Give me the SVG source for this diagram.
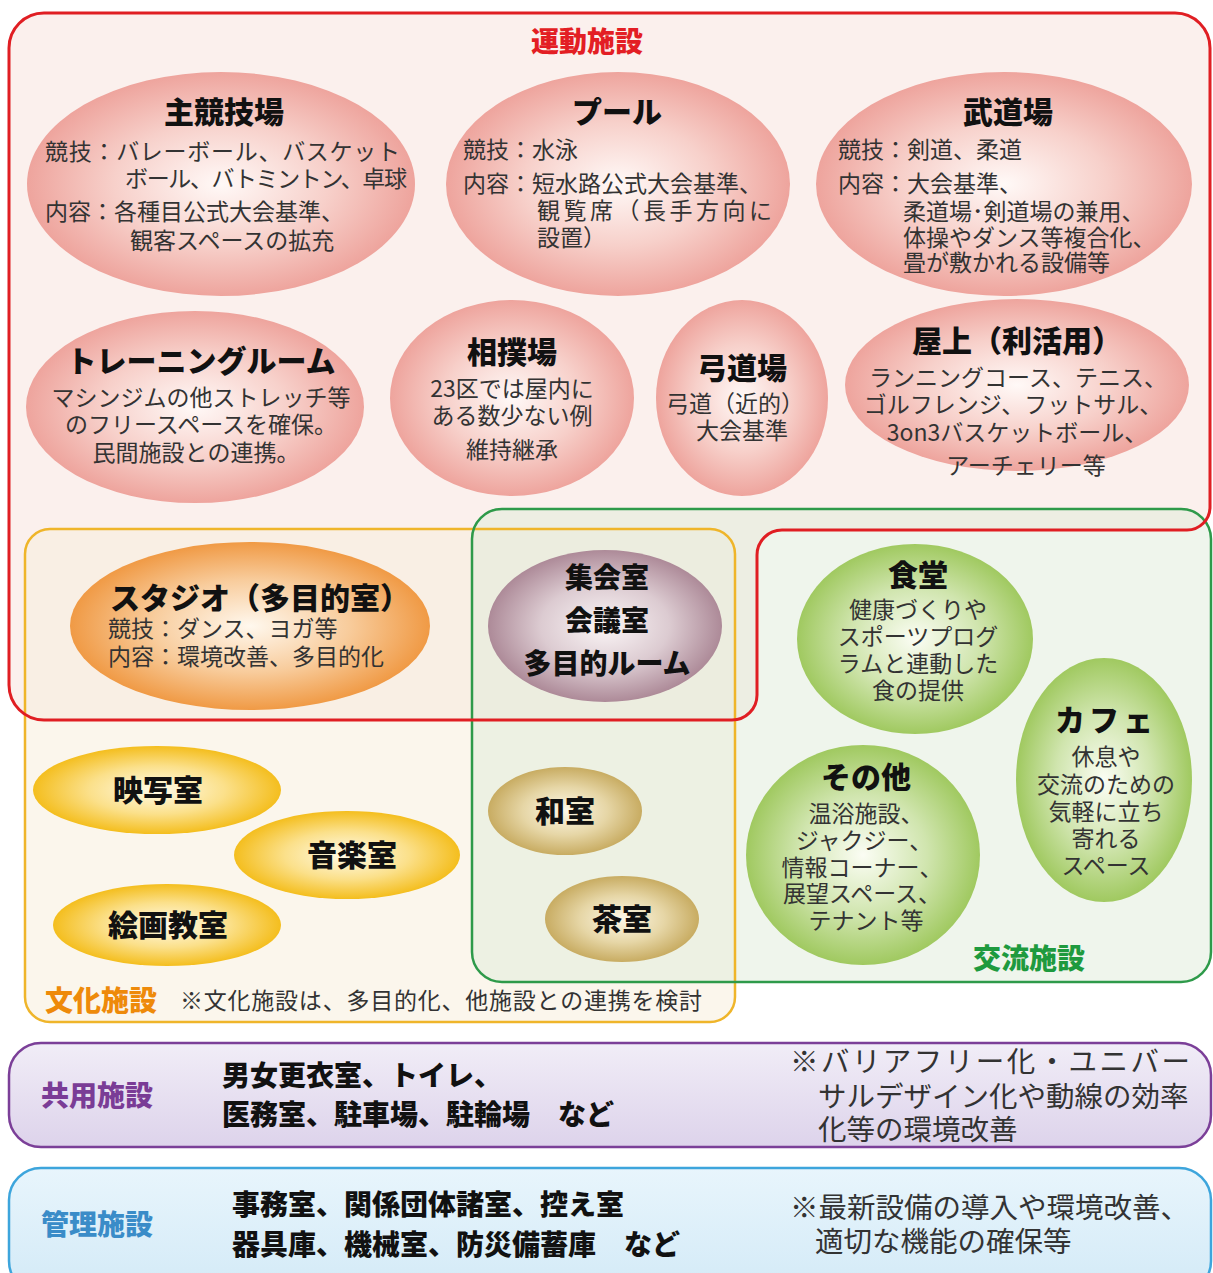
<svg xmlns="http://www.w3.org/2000/svg" width="1213" height="1273" viewBox="0 0 1213 1273">
<defs>
<radialGradient id="gPink"><stop offset="0" stop-color="#FFF9F7"/><stop offset="0.55" stop-color="#F7D0CA"/><stop offset="1" stop-color="#EEA49D"/></radialGradient>
<radialGradient id="gOrange"><stop offset="0" stop-color="#FFF8EE"/><stop offset="0.55" stop-color="#F8CC9C"/><stop offset="1" stop-color="#F09A45"/></radialGradient>
<radialGradient id="gMauve"><stop offset="0" stop-color="#FBF6F7"/><stop offset="0.55" stop-color="#DCCBD1"/><stop offset="1" stop-color="#AD8A98"/></radialGradient>
<radialGradient id="gGreen"><stop offset="0" stop-color="#FBFDF4"/><stop offset="0.55" stop-color="#D0E5AE"/><stop offset="1" stop-color="#A0C960"/></radialGradient>
<radialGradient id="gYellow"><stop offset="0" stop-color="#FFFBEA"/><stop offset="0.55" stop-color="#FBE08A"/><stop offset="1" stop-color="#F4BE1E"/></radialGradient>
<radialGradient id="gKhaki"><stop offset="0" stop-color="#FDF8E8"/><stop offset="0.55" stop-color="#E6D6A6"/><stop offset="1" stop-color="#C8AC62"/></radialGradient>
<linearGradient id="gPurpleBox" x1="0" y1="0" x2="0" y2="1"><stop offset="0" stop-color="#F1EDF7"/><stop offset="1" stop-color="#DDD3EB"/></linearGradient>
<linearGradient id="gBlueBox" x1="0" y1="0" x2="0" y2="1"><stop offset="0" stop-color="#E8F5FC"/><stop offset="1" stop-color="#D3EAF7"/></linearGradient>
<style>
text { font-family: 'Noto Sans CJK JP', 'Noto Sans CJK SC', sans-serif; }
.h { font-size: 30px; font-weight: 900; fill: #111; }
.h28 { font-size: 28px; font-weight: 900; fill: #111; }
.b { font-size: 23px; fill: #333; }
.m { text-anchor: middle; }
.lab { font-size: 28px; font-weight: 900; }
.bb { font-size: 28px; font-weight: 900; fill: #111; }
.n { font-size: 28.5px; fill: #333; }
</style>
</defs>

<g id="areas">
<path d="M 44,13 H 1175 A 35 35 0 0 1 1210 48 V 507 A 23 23 0 0 1 1187 530 H 782 A 25 25 0 0 0 757 555 V 695 A 25 25 0 0 1 732 720 H 44 A 35 35 0 0 1 9 685 V 48 A 35 35 0 0 1 44 13 Z" fill="#FBF0ED"/>
<rect x="25" y="529" width="710" height="493" rx="25" fill="#F8EEDD" fill-opacity="0.55"/>
<rect x="472" y="509" width="739" height="473" rx="30" fill="#E0ECDA" fill-opacity="0.5"/>
<rect x="25" y="529" width="710" height="493" rx="25" fill="none" stroke="#EFB52A" stroke-width="2.5"/>
<rect x="472" y="509" width="739" height="473" rx="30" fill="none" stroke="#2E9A4A" stroke-width="2.5"/>
<path d="M 44,13 H 1175 A 35 35 0 0 1 1210 48 V 507 A 23 23 0 0 1 1187 530 H 782 A 25 25 0 0 0 757 555 V 695 A 25 25 0 0 1 732 720 H 44 A 35 35 0 0 1 9 685 V 48 A 35 35 0 0 1 44 13 Z" fill="none" stroke="#E01E23" stroke-width="3"/>
<text x="587" y="52" class="lab m" fill="#E31E24">運動施設</text>
<text x="1029" y="969" class="lab m" fill="#1E9A3E">交流施設</text>
<text x="45" y="1011" class="lab" fill="#EE8A0A">文化施設</text>
<text x="180" y="1009" class="b" textLength="522">※文化施設は、多目的化、他施設との連携を検討</text>
</g>

<g id="shukyogijo">
<ellipse cx="221" cy="184" rx="194" ry="112" fill="url(#gPink)"/>
<text x="224" y="123" class="h m">主競技場</text>
<text x="45" y="160" class="b" textLength="355">競技：バレーボール、バスケット</text>
<text x="125" y="187" class="b" textLength="282">ボール、バトミントン、卓球</text>
<text x="45" y="220" class="b">内容：各種目公式大会基準、</text>
<text x="130" y="249" class="b">観客スペースの拡充</text>
</g>

<g id="pool">
<ellipse cx="618" cy="184" rx="172" ry="112" fill="url(#gPink)"/>
<text x="617" y="123" class="h m">プール</text>
<text x="463" y="158" class="b">競技：水泳</text>
<text x="463" y="192" class="b">内容：短水路公式大会基準、</text>
<text x="537" y="219" class="b" textLength="235">観覧席（長手方向に</text>
<text x="537" y="246" class="b">設置）</text>
</g>

<g id="budojo">
<ellipse cx="1004" cy="184" rx="188" ry="112" fill="url(#gPink)"/>
<text x="1008" y="123" class="h m">武道場</text>
<text x="838" y="158" class="b">競技：剣道、柔道</text>
<text x="838" y="192" class="b">内容：大会基準、</text>
<text x="903" y="220" class="b">柔道場･剣道場の兼用、</text>
<text x="903" y="246" class="b">体操やダンス等複合化、</text>
<text x="903" y="271" class="b">畳が敷かれる設備等</text>
</g>

<g id="training">
<ellipse cx="195" cy="407" rx="169" ry="96" fill="url(#gPink)"/>
<text x="201" y="372" class="h m">トレーニングルーム</text>
<text x="201" y="406" class="b m">マシンジムの他ストレッチ等</text>
<text x="201" y="433" class="b m">のフリースペースを確保。</text>
<text x="196" y="461" class="b m">民間施設との連携。</text>
</g>

<g id="sumo">
<ellipse cx="512" cy="398" rx="122" ry="98" fill="url(#gPink)"/>
<text x="512" y="363" class="h m">相撲場</text>
<text x="512" y="397" class="b m">23区では屋内に</text>
<text x="512" y="424" class="b m">ある数少ない例</text>
<text x="512" y="458" class="b m">維持継承</text>
</g>

<g id="kyudo">
<ellipse cx="742" cy="398" rx="86" ry="98" fill="url(#gPink)"/>
<text x="742" y="379" class="h m">弓道場</text>
<text x="735" y="412" class="b m">弓道（近的）</text>
<text x="742" y="439" class="b m">大会基準</text>
</g>

<g id="okujo">
<ellipse cx="1017" cy="385" rx="172" ry="86" fill="url(#gPink)"/>
<text x="1017" y="352" class="h m">屋上（利活用）</text>
<text x="1018" y="386" class="b m">ランニングコース、テニス、</text>
<text x="1013" y="413" class="b m">ゴルフレンジ、フットサル、</text>
<text x="1017" y="441" class="b m">3on3バスケットボール、</text>
<text x="1026" y="474" class="b m">アーチェリー等</text>
</g>

<g id="studio">
<ellipse cx="250" cy="626" rx="180" ry="84" fill="url(#gOrange)"/>
<text x="110" y="609" class="h">スタジオ（多目的室）</text>
<text x="108" y="637" class="b">競技：ダンス、ヨガ等</text>
<text x="108" y="665" class="b">内容：環境改善、多目的化</text>
</g>

<g id="shukaishitsu">
<ellipse cx="605" cy="626" rx="117" ry="76" fill="url(#gMauve)"/>
<text x="607" y="588" class="h28 m">集会室</text>
<text x="607" y="631" class="h28 m">会議室</text>
<text x="607" y="674" class="h28 m">多目的ルーム</text>
</g>

<g id="shokudo">
<ellipse cx="915" cy="639" rx="118" ry="95" fill="url(#gGreen)"/>
<text x="918" y="586" class="h m">食堂</text>
<text x="918" y="618" class="b m">健康づくりや</text>
<text x="918" y="645" class="b m">スポーツプログ</text>
<text x="918" y="672" class="b m">ラムと連動した</text>
<text x="918" y="699" class="b m">食の提供</text>
</g>

<g id="cafe">
<ellipse cx="1104" cy="780" rx="88" ry="122" fill="url(#gGreen)"/>
<text x="1106" y="731" class="h m" letter-spacing="4">カフェ</text>
<text x="1106" y="765" class="b m">休息や</text>
<text x="1106" y="793" class="b m">交流のための</text>
<text x="1106" y="820" class="b m">気軽に立ち</text>
<text x="1106" y="847" class="b m">寄れる</text>
<text x="1106" y="874" class="b m">スペース</text>
</g>

<g id="sonota">
<ellipse cx="863" cy="855" rx="117" ry="110" fill="url(#gGreen)"/>
<text x="866" y="788" class="h m">その他</text>
<text x="866" y="822" class="b m">温浴施設、</text>
<text x="864" y="849" class="b m">ジャクジー、</text>
<text x="862" y="876" class="b m">情報コーナー、</text>
<text x="862" y="902" class="b m">展望スペース、</text>
<text x="866" y="929" class="b m">テナント等</text>
</g>

<g id="eishashitsu">
<ellipse cx="157" cy="790" rx="124" ry="44" fill="url(#gYellow)"/>
<text x="158" y="801" class="h m">映写室</text>
</g>
<g id="ongakushitsu">
<ellipse cx="347" cy="855" rx="113" ry="44" fill="url(#gYellow)"/>
<text x="352" y="866" class="h m">音楽室</text>
</g>
<g id="kaigakyoshitsu">
<ellipse cx="167" cy="925" rx="114" ry="41" fill="url(#gYellow)"/>
<text x="168" y="936" class="h m">絵画教室</text>
</g>
<g id="washitsu">
<ellipse cx="565" cy="811" rx="77" ry="44" fill="url(#gKhaki)"/>
<text x="565" y="822" class="h m">和室</text>
</g>
<g id="chashitsu">
<ellipse cx="622" cy="919" rx="77" ry="43" fill="url(#gKhaki)"/>
<text x="622" y="930" class="h m">茶室</text>
</g>

<g id="kyoyo">
<rect x="9" y="1043" width="1202" height="104" rx="32" fill="url(#gPurpleBox)" stroke="#7B3F98" stroke-width="2.5"/>
<text x="97" y="1106" class="lab m" fill="#7A3C96">共用施設</text>
<text x="222" y="1086" class="bb">男女更衣室、トイレ、</text>
<text x="222" y="1125" class="bb">医務室、駐車場、駐輪場　など</text>
<text x="790" y="1072" class="n" textLength="400">※バリアフリー化・ユニバー</text>
<text x="818" y="1107" class="n">サルデザイン化や動線の効率</text>
<text x="818" y="1140" class="n">化等の環境改善</text>
</g>

<g id="kanri">
<rect x="9" y="1168" width="1202" height="125" rx="32" fill="url(#gBlueBox)" stroke="#3DA5DC" stroke-width="2.5"/>
<text x="97" y="1235" class="lab m" fill="#3A8CC8">管理施設</text>
<text x="232" y="1215" class="bb">事務室、関係団体諸室、控え室</text>
<text x="232" y="1255" class="bb">器具庫、機械室、防災備蓄庫　など</text>
<text x="790" y="1218" class="n">※最新設備の導入や環境改善、</text>
<text x="815" y="1252" class="n">適切な機能の確保等</text>
</g>
</svg>
